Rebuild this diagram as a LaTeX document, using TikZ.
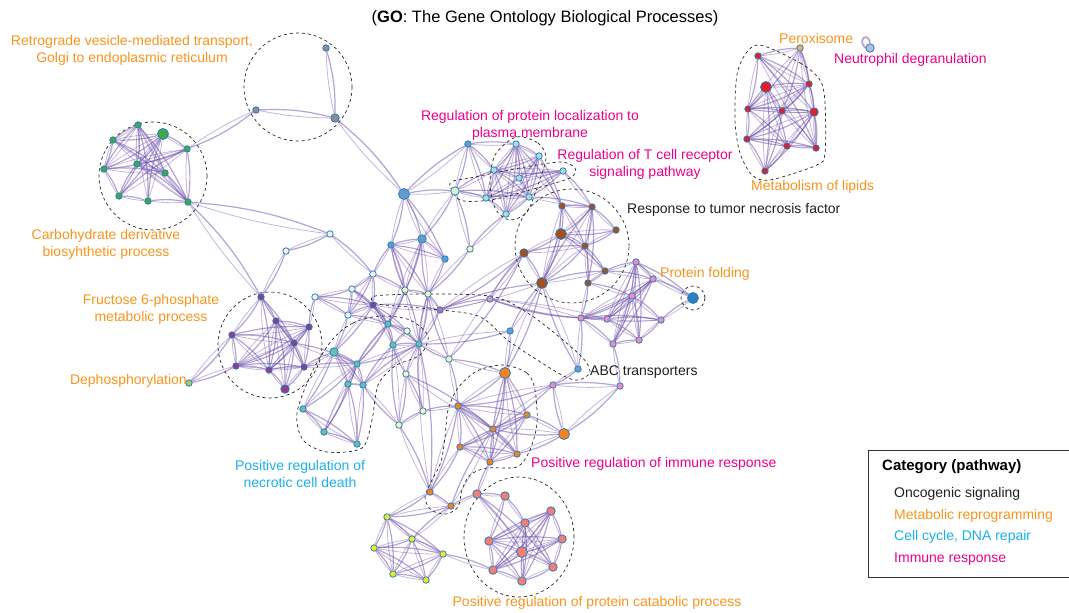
\documentclass[tikz,border=0pt]{standalone}
\usepackage{fontspec}
\setmainfont{Liberation Sans}
\usetikzlibrary{positioning,backgrounds}

\definecolor{lnkc}{HTML}{6A4AA8}
\definecolor{ndline}{HTML}{2C7BB6}
\definecolor{cgreen}{HTML}{3DAA4A}
\definecolor{cgray}{HTML}{8C8C94}
\definecolor{cblue}{HTML}{5E9ED3}
\definecolor{cdblue}{HTML}{2C7FC1}
\definecolor{cpale}{HTML}{D8EFC8}
\definecolor{ccyan}{HTML}{A9DCE0}
\definecolor{cbrown}{HTML}{A5501F}
\definecolor{cpink}{HTML}{F38BC3}
\definecolor{cmag}{HTML}{C468B0}
\definecolor{corange}{HTML}{F5821F}
\definecolor{csalmon}{HTML}{F27E76}
\definecolor{cyell}{HTML}{EEE82C}
\definecolor{cltyel}{HTML}{F6F6B8}
\definecolor{cteal}{HTML}{63BFB0}
\definecolor{cpurp}{HTML}{8E3D8F}
\definecolor{cred}{HTML}{E41E25}
\definecolor{clav}{HTML}{B4BCE2}
\definecolor{cwhite}{HTML}{EEF2F8}
\definecolor{cdeph}{HTML}{A8C86A}
\definecolor{cperox}{HTML}{F4B04A}
\definecolor{txor}{HTML}{F7941D}
\definecolor{txmg}{HTML}{EC008C}
\definecolor{txcy}{HTML}{1BB0EA}
\definecolor{txdk}{HTML}{231F20}

\begin{document}
\begin{tikzpicture}[x=1pt, y=-1pt,
    nd/.style={circle, draw=ndline, line width=0.8pt, inner sep=0pt, minimum size=6.5pt},
    mid/.style={minimum size=8.5pt},
    big/.style={minimum size=11pt},
    lnk/.style={draw=lnkc, line width=1.2pt, opacity=0.5},
    lnkb/.style={draw=lnkc, line width=0.8pt, opacity=0.4},
    hull/.style={draw=black!85, dashed, line width=0.7pt},
    lbl/.style={font=\fontsize{14}{17}\selectfont, align=center, inner sep=0pt}
]
\useasboundingbox (0,0) rectangle (1069,613);

\foreach \n/\x/\y in {rA/326/48, rB/256/110}
  \node[nd, fill=cgray] (\n) at (\x,\y) {};
\node[nd, mid, fill=cgray] (rC) at (335,118) {};

\foreach \n/\x/\y in {gA/138/125, gC/113/140, gD/187/149, gE/104/169, gF/137/164, gG/165/173, gH/119/196, gI/148/201, gJ/188/202}
  \node[nd, fill=cgreen] (\n) at (\x,\y) {};
\node[nd, big, fill=cgreen] (gB) at (163,134) {};

\foreach \n/\x/\y in {bB/468/144, bC/391/245, bE/445/259, bF/510/331, zA/578/369}
  \node[nd, fill=cblue] (\n) at (\x,\y) {};
\node[nd, big, fill=cblue] (bA) at (404,194) {};
\node[nd, mid, fill=cblue] (bD) at (422,239) {};
\node[nd, mid, fill=cpale] (vA) at (455,191) {};
\node[nd, fill=cltyel] (vB) at (470,249) {};

\foreach \n/\x/\y in {cA/516/144, cB/539/156, cC/494/170, cD/519/178, cE/563/171, cF/486/198, cG/529/197, cH/506/214}
  \node[nd, fill=ccyan] (\n) at (\x,\y) {};

\foreach \n/\x/\y in {kA/562/206, kB/592/207, kC/616/230, kE/585/246, kH/605/271, kI/588/283}
  \node[nd, fill=cbrown] (\n) at (\x,\y) {};
\node[nd, mid, fill=cbrown] (kF) at (524,253) {};
\node[nd, big, fill=cbrown] (kD) at (561,234) {};
\node[nd, big, fill=cbrown] (kG) at (542,283) {};

\foreach \n/\x/\y in {qA/636/262, qB/653/279, qC/632/296, qD/581/318, qE/607/319, qF/661/320, qG/613/344, qH/639/340, uA/553/385, uB/620/386, mC/490/299}
  \node[nd, fill=cpink] (\n) at (\x,\y) {};
\node[nd, big, fill=cdblue] (zF) at (693,298) {};

\foreach \n/\x/\y in {oB/458/406, oC/527/415, oE/493/429, oF/460/447, oG/517/454, oH/490/462, oI/430/492, oJ/451/506}
  \node[nd, fill=corange] (\n) at (\x,\y) {};
\node[nd, big, fill=corange] (oA) at (505,373) {};
\node[nd, big, fill=corange] (oD) at (564,434) {};

\foreach \n/\x/\y in {sA/477/494, sB/505/496, sC/551/511, sD/525/523, sE/489/541, sF/562/539, sH/493/570, sI/553/567, sJ/522/581}
  \node[nd, mid, fill=csalmon] (\n) at (\x,\y) {};
\node[nd, big, fill=csalmon] (sG) at (522,552) {};

\foreach \n/\x/\y in {eA/387/517, eB/412/539, eC/374/548, eD/443/554, eE/393/574, eF/426/580}
  \node[nd, fill=cyell] (\n) at (\x,\y) {};

\foreach \n/\x/\y in {yA/405/290, yB/428/294, yC/407/331, yD/449/359, yE/406/374, yF/423/411, yG/399/425}
  \node[nd, fill=cltyel] (\n) at (\x,\y) {};

\foreach \n/\x/\y in {nB/357/364, nC/348/384, nD/363/385, nE/303/409, nF/324/432, nG/357/444, tA/388/324, tB/393/345, tC/419/344}
  \node[nd, fill=cteal] (\n) at (\x,\y) {};
\node[nd, mid, fill=cteal] (nA) at (334,352) {};

\foreach \n/\x/\y in {fA/261/297, fB/276/321, fC/232/335, fD/309/327, fE/294/343, fF/236/366, fG/269/370, fH/304/367, mA/373/305}
  \node[nd, fill=cpurp] (\n) at (\x,\y) {};
\node[nd, mid, fill=cpurp] (fI) at (285,389) {};
\node[nd, fill=cmag] (mB) at (440,310) {};

\foreach \n/\x/\y in {wA/373/274, wB/352/289, wC/315/297, wD/348/315, pA/330/234, pB/286/251}
  \node[nd, fill=cwhite] (\n) at (\x,\y) {};
\node[nd, fill=cdeph] (xD) at (189,383) {};

\foreach \n/\x/\y in {hA/758/56, hD/809/84, hE/748/109, hF/782/111, hH/747/139, hI/787/146, hJ/816/148, hK/765/171}
  \node[nd, fill=cred] (\n) at (\x,\y) {};
\node[nd, big, fill=cred] (hC) at (766,87) {};
\node[nd, mid, fill=cred] (hG) at (814,112) {};
\node[nd, fill=cperox] (hB) at (800,48) {};
\node[nd, mid, fill=clav] (nu) at (870,48) {};

\begin{scope}[on background layer]
\foreach \a/\b in {rA/rC, rB/rC, rB/gD, rC/bA,
    gA/gF, gA/gG, gA/gI, gA/gJ, gB/gF, gB/gH, gB/gC, gB/gE, gB/gD, gC/gG, gC/gJ, gC/gE, gC/gA, gD/gE, gD/gF, gD/gJ,
    gE/gG, gE/gH, gF/gG, gF/gJ, gH/gI, gH/gD, gI/gJ, gI/gB, gG/gJ, gE/gA, gH/gF, gJ/fA, gJ/pA,
    bA/bB, bA/vA, bA/bC, bA/bD, bA/bE, bB/vA, bB/cC, bB/cA, bB/cF, vA/bD, vA/vB, vA/cF, vA/cC, vA/cG,
    bC/bD, bC/bE, bC/yA, bC/yB, bD/bE, bD/yA, bD/tA, vB/cH, vB/yB, bE/yB,
    cA/cB, cA/cC, cA/cD, cA/cG, cA/cH, cA/cF, cB/cC, cB/cD, cB/cG, cB/cH, cC/cD, cC/cG, cC/cF, cD/cF, cD/cE, cD/cG,
    cE/cC, cE/cF, cE/cG, cF/cG, cF/cH, cG/cH, cC/cH, cA/kA, cB/kA, cG/kB, cE/kB,
    kA/kD, kA/kB, kA/kG, kA/kE, kB/kD, kB/kE, kB/kC, kB/kI, kC/kD, kC/kE, kD/kE, kD/kF, kD/kG, kD/kH,
    kE/kG, kE/kH, kE/kI, kF/kG, kF/kE, kG/kH, kG/kB, kH/kI, kH/qA, kI/qC, kI/qD, kH/qB, kG/oA, kF/mB, kF/yD,
    qA/qC, qA/qB, qA/qG, qA/qE, qA/qH, qB/qC, qB/qD, qB/qG, qB/qE, qC/qD, qC/qE, qC/qF, qC/qG, qC/qH, qD/qE,
    qD/qF, qD/qG, qE/qF, qE/qH, qF/qH, qG/qH, qB/zF, qA/zF, qF/zF, qG/uB, qD/zA, qD/mC, qE/mC, zA/uA, zA/kG,
    oA/oE, oA/oC, oA/oG, oA/oH, oA/oB, oB/oC, oB/oE, oB/oF, oB/oG, oB/oH, oC/oD, oC/oE, oC/oF, oC/oH,
    oD/oE, oD/oG, oD/uA, uA/oE, uA/oB, uA/uB, uB/oD, oE/oF, oE/oG, oE/oH, oF/oG, oF/oH, oG/oH, oF/oI, oB/oI,
    oI/oJ, oJ/oE, oI/eA, oJ/eA, oJ/sA, sA/oH,
    sA/sB, sA/sG, sA/sI, sB/sD, sC/sD, sC/sG, sC/sH, sC/sF, sC/sJ, sD/sE, sD/sG, sD/sH, sD/sI, sD/sJ, sE/sG, sE/sF,
    sE/sH, sE/sC, sF/sG, sF/sH, sF/sI, sG/sH, sG/sI, sG/sJ, sH/sJ, sI/sJ, sE/sJ, sB/sE,
    eA/eB, eA/eC, eA/eD, eA/eE, eB/eC, eB/eD, eB/eE, eB/eF, eC/eE, eC/eF, eD/eE, eD/eF, eE/eF, eC/eD, eB/oJ, eD/sH,
    fA/fB, fA/fE, fA/fG, fA/fC, fB/fD, fB/fE, fB/fF, fB/fH, fB/fI, fC/fD, fC/fF, fC/fG, fC/fE, fD/fE,
    fD/fG, fD/fH, fD/fF, fE/fF, fE/fG, fE/fH, fE/fI, fF/fG, fF/fH, fG/fH, fG/fI, fH/fI, fB/fG, fC/xD, fF/xD,
    fH/nA, fD/wC, fE/nB, fH/nB,
    nA/nB, nA/nC, nA/nD, nA/nE, nB/nC, nB/nD, nC/nD, nB/nE, nB/nF, nC/nG, nC/nF, nE/nF, nE/nG, nF/nG, nD/nG,
    nB/tA, nD/tB, nD/tC, tC/nB, tA/nB, mA/nA,
    pA/pB, pA/wA, pB/fA, wA/wB, wA/wD, wA/mA, wA/yA, wB/wC, wB/wD, wB/mA, wB/tA, wC/wD, wC/mA,
    wD/mA, wD/tA, wD/nA, mA/tA, mA/yC, mA/tB, tA/tB, tA/tC, tA/yC, tB/tC, tB/yC, tC/yC, tC/yB, yA/yB, yA/tA,
    yA/tC, yB/tC, yB/mB, mB/mC, mB/tC, mA/mB, mC/kF, mB/kG, yD/tC, yD/yB, yD/oA, yD/oB, yE/tB, yE/tC, yE/yG,
    yE/yF, yF/tC, yG/tB, yG/nD, yG/yF, yF/oB, bF/tC, bF/kG, bF/oA, yE/oE, yB/bD, yA/bC, wA/bC, yG/oI, tC/oI,
    hA/hB, hA/hG, hA/hJ, hA/hE, hA/hD, hB/hE, hB/hF, hB/hJ, hB/hD, hC/hE, hC/hF, hC/hK, hC/hD,
    hC/hI, hD/hE, hD/hF, hD/hH, hD/hG, hE/hF, hE/hG, hE/hH, hE/hI, hF/hG, hF/hH, hF/hJ, hF/hK, hG/hH, hG/hI,
    hG/hJ, hG/hK, hH/hI, hH/hJ, hH/hK, hI/hJ, hI/hK}
  {\draw[lnk] (\a) to[bend left=8] (\b);
   \draw[lnkb] (\a) to[bend right=5] (\b);}
\draw[lnk, line width=1.8pt] (nu.west) .. controls +(-9,-9) and +(-1,-12) .. (nu.north);

\draw[hull] (298,87) circle[radius=54pt];
\draw[hull] (153,176) circle[radius=54pt];
\draw[hull] (572,246) circle[radius=57pt];
\draw[hull] (693,298) circle[radius=12pt];
\draw[hull] (270,345) ellipse[x radius=52pt, y radius=53pt];
\draw[hull] (519,537) ellipse[x radius=55pt, y radius=60pt];
\draw[hull] plot[smooth cycle] coordinates {(757,45) (800,63) (820,80) (825,103) (825,153) (817,165) (770,180)
    (752,175) (740,153) (735,120) (738,70)};
\draw[hull] plot[smooth cycle] coordinates {(516,137) (538,143) (546,158) (538,185) (527,212) (510,220) (496,210)
    (490,185) (495,155)};
\draw[hull] plot[smooth cycle] coordinates {(450,183) (470,178) (520,168) (560,162) (575,168) (570,178) (530,190)
    (490,200) (460,200)};
\draw[hull] plot[smooth cycle] coordinates {(375,296) (430,294) (495,297) (535,318) (580,355) (590,372) (578,380)
    (560,374) (510,342) (478,316) (420,308) (378,304)};
\draw[hull] plot[smooth cycle] coordinates {(332,340) (353,323) (380,316) (410,320) (428,336) (420,355) (395,366)
    (378,385) (372,420) (362,448) (327,452) (303,440) (297,413) (312,372)};
\draw[hull] plot[smooth cycle] coordinates {(503,365) (527,373) (535,390) (537,423) (530,450) (517,467) (487,468)
    (470,475) (462,490) (458,507) (446,514) (431,510) (425,497) (432,480) (441,462) (445,437) (448,410) (458,388)
    (477,371)};
\end{scope}

\node[lbl, font=\fontsize{16.5}{19}\selectfont] (ttl) at (545,18) {(\textbf{GO}: The Gene Ontology Biological Processes)};
\node[lbl, text=txor] (retro) at (132,50) {Retrograde vesicle-mediated transport,\\Golgi to endoplasmic reticulum};
\node[lbl, text=txor] (carb) at (106,244) {Carbohydrate derivative\\biosyhthetic process};
\node[lbl, text=txor] (fruc) at (151,309) {Fructose 6-phosphate\\metabolic process};
\node[lbl, text=txor, anchor=east] (deph) at (187,381) {Dephosphorylation};
\node[lbl, text=txcy] (necro) at (300,474) {Positive regulation of\\necrotic cell death};
\node[lbl, text=txmg] (plas) at (530,125) {Regulation of protein localization to\\plasma membrane};
\node[lbl, text=txmg] (tcell) at (645,164) {Regulation of T cell receptor\\signaling pathway};
\node[lbl, text=txdk, anchor=west] (tnf) at (627,210) {Response to tumor necrosis factor};
\node[lbl, text=txor, anchor=west] (fold) at (660,274) {Protein folding};
\node[lbl, text=txdk, anchor=west] (abc) at (590,372) {ABC transporters};
\node[lbl, text=txmg, anchor=west] (immu) at (531,464) {Positive regulation of immune response};
\node[lbl, text=txor] (catab) at (597,603) {Positive regulation of protein catabolic process};
\node[lbl, text=txor, anchor=west] (perox) at (779,38) {Peroxisome};
\node[lbl, text=txmg, anchor=west] (neut) at (834,60) {Neutrophil degranulation};
\node[lbl, text=txor, anchor=west] (lipid) at (751,187) {Metabolism of lipids};

\node[draw=black!80, line width=0.6pt, anchor=north west, minimum width=215pt, minimum height=127pt] (legbox) at (868,450) {};
\node[lbl, anchor=west, font=\bfseries\fontsize{15}{17}\selectfont] (legt) at (882,467) {Category (pathway)};
\node[lbl, anchor=west, text=txdk] (leg1) at (894,494) {Oncogenic signaling};
\node[lbl, anchor=west, text=txor] (leg2) at (894,516) {Metabolic reprogramming};
\node[lbl, anchor=west, text=txcy] (leg3) at (894,537) {Cell cycle, DNA repair};
\node[lbl, anchor=west, text=txmg] (leg4) at (894,559) {Immune response};
\end{tikzpicture}
\end{document}
